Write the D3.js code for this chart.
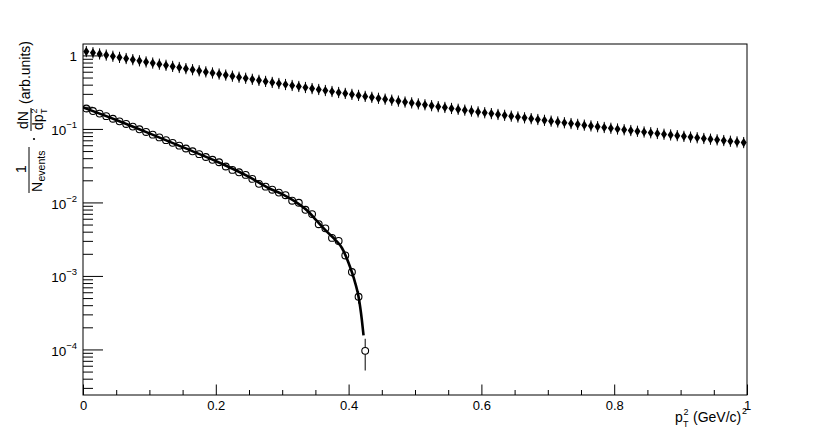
<!DOCTYPE html>
<html><head><meta charset="utf-8">
<script src="https://cdn.jsdelivr.net/npm/d3@7"></script>
<style>
body{margin:0;background:#fff}
svg{display:block}
text{font-family:"Liberation Sans",Arial,Helvetica,sans-serif;fill:#000}
</style>
</head><body><div id="chart"></div>
<script>
// ---------------- data ----------------
const binWidth = 0.01;
const upperValues = [1.127,1.087,1.048,1.010,0.974,0.940,0.907,0.875,0.844,0.815,
 0.787,0.760,0.734,0.709,0.685,0.661,0.639,0.618,0.597,0.577,
 0.558,0.540,0.522,0.505,0.489,0.473,0.458,0.443,0.429,0.415,
 0.402,0.390,0.378,0.366,0.354,0.344,0.333,0.323,0.313,0.304,
 0.295,0.286,0.277,0.269,0.261,0.254,0.246,0.239,0.232,0.226,
 0.219,0.213,0.207,0.201,0.196,0.190,0.185,0.180,0.175,0.1705,
 0.166,0.1616,0.1573,0.1532,0.1492,0.1453,0.1415,0.1379,0.1343,0.1309,
 0.1276,0.1244,0.1213,0.1183,0.1154,0.1126,0.1098,0.1072,0.1046,0.1021,
 0.0997,0.0974,0.0951,0.0929,0.0908,0.0887,0.0867,0.0847,0.0828,0.0810,
 0.0792,0.0774,0.0758,0.0741,0.0725,0.0710,0.0695,0.0680,0.0666,0.0652];
const lowerValues = [0.1895,0.1751,0.1617,0.1492,0.1376,0.1268,0.1168,0.1075,0.0989,0.0910,
 0.0836,0.0767,0.0704,0.0646,0.0592,0.0542,0.0496,0.0454,0.0415,0.0380,
 0.0352,0.0308,0.0277,0.0257,0.0237,0.0209,0.0179,0.0164,0.0149,0.0136,
 0.01254,0.01055,0.0099,0.00794,0.00694,0.00506,0.00444,0.00329,0.00299,0.00190,
 0.00113,0.000521,0.0000957];
const lowerErrors = [1.95e-3,1.87e-3,1.80e-3,1.73e-3,1.66e-3,1.59e-3,1.53e-3,1.47e-3,1.41e-3,1.35e-3,
 1.29e-3,1.24e-3,1.19e-3,1.14e-3,1.09e-3,1.04e-3,1.00e-3,9.5e-4,9.1e-4,8.7e-4,
 8.4e-4,7.8e-4,7.4e-4,7.2e-4,6.9e-4,6.5e-4,6.0e-4,5.7e-4,5.5e-4,5.2e-4,
 5.0e-4,4.6e-4,4.4e-4,4.0e-4,3.7e-4,3.2e-4,3.0e-4,2.6e-4,2.4e-4,1.9e-4,
 1.5e-4,1.0e-4,4.4e-5];
const fitX = [0,0.05,0.10,0.15,0.20,0.25,0.28,0.30,0.32,0.34,0.35,0.36,0.37,0.38,0.39,0.40,0.41,0.415,0.42,0.4225];
const fitY = [0.196,0.1324,0.0871,0.0565,0.0366,0.0223,0.0156,0.0130,0.0102,0.0074,0.0059,0.0047,0.0038,0.0031,0.0024,0.0015,0.0008,0.00052,0.00025,0.000155];
const xMajorTicks = [0,0.2,0.4,0.6,0.8,1];
const xTickLabels = ["0","0.2","0.4","0.6","0.8","1"];
const yDecadeTicks = [1e-4,1e-3,1e-2,1e-1,1];
const yTickBases = ["10","10","10","10","1"];
const yTickExps = ["\u22124","\u22123","\u22122","\u22121",""];
const xDomain = [0,1];
const yDomain = [2.4e-5,1.43];

// ---------------- layout ----------------
const W = 830, H = 440;
const L = 83, R = 747, T = 44, B = 395;
const svg = d3.select("#chart").append("svg").attr("width",W).attr("height",H);
svg.append("rect").attr("width",W).attr("height",H).attr("fill","#fff");

const x = d3.scaleLinear().domain(xDomain).range([L,R]);
const y = d3.scaleLog().domain(yDomain).range([B,T]);

// minor ticks
const xMinor = d3.range(0,21).map(i=>i*0.05).filter(v=>!xMajorTicks.some(m=>Math.abs(m-v)<1e-9));
const yMinor = [];
for (let e=-5;e<=0;e++) for (let k=2;k<=9;k++){const v=k*Math.pow(10,e); if(v>=yDomain[0]&&v<=yDomain[1]) yMinor.push(v);}

const gx = svg.append("g").attr("transform",`translate(0,${B})`);
gx.call(d3.axisBottom(x).tickValues(xMinor).tickSizeInner(-5).tickSizeOuter(0).tickFormat(""));
const gx2 = svg.append("g").attr("transform",`translate(0,${B})`);
gx2.call(d3.axisBottom(x).tickValues(xMajorTicks).tickSizeInner(-10.5).tickSizeOuter(0).tickPadding(6)
  .tickFormat((d,i)=>xTickLabels[i]));
[gx,gx2].forEach(g=>{g.select(".domain").remove(); g.selectAll("line").attr("stroke","#000").attr("stroke-width",1);});
gx2.selectAll("text").attr("font-size",13).attr("font-family","Liberation Sans, Arial, sans-serif");

const gy = svg.append("g").attr("transform",`translate(${L},0)`);
gy.call(d3.axisLeft(y).tickValues(yMinor).tickSizeInner(-10).tickSizeOuter(0).tickFormat(""));
const gy2 = svg.append("g").attr("transform",`translate(${L},0)`);
gy2.call(d3.axisLeft(y).tickValues(yDecadeTicks).tickSizeInner(-20).tickSizeOuter(0).tickPadding(6).tickFormat(""));
[gy,gy2].forEach(g=>{g.select(".domain").remove(); g.selectAll("line").attr("stroke","#000").attr("stroke-width",1);});
gy2.selectAll(".tick text").each(function(d,i){
  const t = d3.select(this).attr("dy",null).attr("y",6).attr("font-size",13.5)
    .attr("font-family","Liberation Sans, Arial, sans-serif").text(yTickBases[i]);
  if (yTickExps[i]) t.append("tspan").attr("font-size",9.5).attr("dy",-7).text(yTickExps[i]);
  else t.attr("y",5);
});

// frame
svg.append("rect").attr("x",L).attr("y",T).attr("width",R-L).attr("height",B-T)
  .attr("fill","none").attr("stroke","#000").attr("stroke-width",1);

// ---------------- data marks ----------------
const clip = svg.append("clipPath").attr("id","clip").append("rect")
  .attr("x",L).attr("y",T).attr("width",R-L).attr("height",B-T);
const plot = svg.append("g").attr("clip-path","url(#clip)");

// fit curve
const fitPts = fitX.map((v,i)=>[v,fitY[i]]);
plot.append("path").datum(fitPts)
  .attr("d", d3.line().x(d=>x(d[0])).y(d=>y(d[1])).curve(d3.curveMonotoneX))
  .attr("fill","none").attr("stroke","#000").attr("stroke-width",2.6);

// lower series: open circles with error bars
const r = 3.4;
const lower = lowerValues.map((v,i)=>({x:(i+0.5)*binWidth, v, e:lowerErrors[i]}));
lower.forEach(d=>{
  const cx = x(d.x), cy = y(d.v), yt = y(d.v+d.e), yb = y(Math.max(d.v-d.e, yDomain[0]*0.5));
  if (cy - yt > r) plot.append("line").attr("x1",cx).attr("x2",cx).attr("y1",yt).attr("y2",cy-r).attr("stroke","#000");
  if (yb - cy > r) plot.append("line").attr("x1",cx).attr("x2",cx).attr("y1",cy+r).attr("y2",yb).attr("stroke","#000");
});
plot.selectAll("circle.low").data(lower).join("circle").attr("class","low")
  .attr("cx",d=>x(d.x)).attr("cy",d=>y(d.v)).attr("r",r)
  .attr("fill","none").attr("stroke","#000").attr("stroke-width",1.1);

// upper series: filled diamonds
const upper = upperValues.map((v,i)=>({x:(i+0.5)*binWidth, v}));
const hw = 3, hh = 4.6;
plot.selectAll("path.up").data(upper).join("path").attr("class","up")
  .attr("d",d=>{const cx=x(d.x), cy=y(d.v);
    return `M${cx},${cy-hh}L${cx+hw},${cy}L${cx},${cy+hh}L${cx-hw},${cy}Z`;})
  .attr("fill","#000");
plot.selectAll("line.uperr").data(upper).join("line").attr("class","uperr")
  .attr("x1",d=>x(d.x)).attr("x2",d=>x(d.x))
  .attr("y1",d=>y(d.v)-5.6).attr("y2",d=>y(d.v)+5.6).attr("stroke","#000").attr("stroke-width",1);

// ---------------- titles ----------------
const xt = svg.append("g");
xt.append("text").attr("x",675).attr("y",421.5).attr("font-size",14).text("p");
xt.append("text").attr("x",683.5).attr("y",415).attr("font-size",9).text("2");
xt.append("text").attr("x",683).attr("y",427).attr("font-size",9).text("T");
xt.append("text").attr("x",693).attr("y",421.5).attr("font-size",14).text("(GeV/c)");
xt.append("text").attr("x",742).attr("y",414).attr("font-size",9).text("2");

const yt = svg.append("g").attr("transform","translate(28,193) rotate(-90)");
yt.append("text").attr("x",24).attr("y",-2).attr("font-size",14).attr("text-anchor","middle").text("1");
yt.append("line").attr("x1",0).attr("x2",46).attr("y1",1).attr("y2",1).attr("stroke","#000").attr("stroke-width",1);
yt.append("text").attr("x",1).attr("y",14).attr("font-size",14).text("N");
yt.append("text").attr("x",11.5).attr("y",17).attr("font-size",10.5).text("events");
yt.append("circle").attr("cx",54).attr("cy",6).attr("r",1.1).attr("fill","#000");
yt.append("text").attr("x",73).attr("y",0).attr("font-size",14).attr("text-anchor","middle").text("dN");
yt.append("line").attr("x1",62).attr("x2",85).attr("y1",3).attr("y2",3).attr("stroke","#000").attr("stroke-width",1);
yt.append("text").attr("x",63).attr("y",14.5).attr("font-size",14).text("dp");
yt.append("text").attr("x",79.5).attr("y",8.5).attr("font-size",9).text("2");
yt.append("text").attr("x",79).attr("y",19).attr("font-size",9).text("T");
yt.append("text").attr("x",89).attr("y",2).attr("font-size",14).text("(arb.units)");
</script>
</body></html>
